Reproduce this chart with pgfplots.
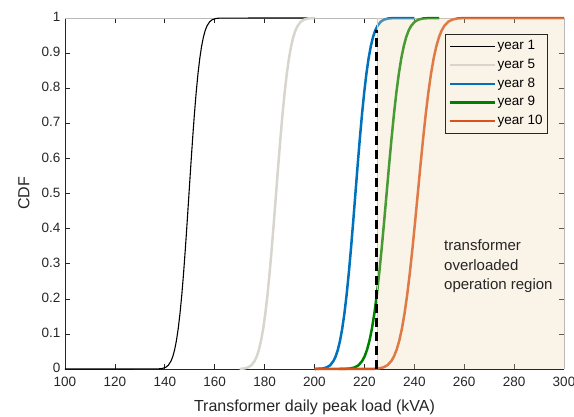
\documentclass[border=0pt]{standalone}
\usepackage{fontspec}
\setmainfont{Liberation Sans}
\usepackage{pgfplots}
\pgfplotsset{compat=1.18}
\definecolor{c5}{RGB}{216,213,206}
\definecolor{c8}{RGB}{0,114,189}
\definecolor{c9}{RGB}{0,128,0}
\definecolor{c10}{RGB}{217,83,25}
\definecolor{patchc}{rgb}{0.933,0.843,0.687}
\definecolor{bgc}{RGB}{250,243,231}
\definecolor{axc}{RGB}{38,38,38}
\begin{document}
\begin{tikzpicture}
\path[use as bounding box] (-65pt,-47pt) rectangle (509pt,369pt);
\begin{axis}[
  scale only axis, width=499pt, height=351pt,
  xmin=100, xmax=300, ymin=0, ymax=1,
  clip=false,
  separate axis lines,
  axis line style={draw=none},
  xtick={100,120,140,160,180,200,220,240,260,280,300},
  ytick={0,0.1,0.2,0.3,0.4,0.5,0.6,0.7,0.8,0.9,1},
  yticklabels={0,0.1,0.2,0.3,0.4,0.5,0.6,0.7,0.8,0.9,1},
  tick align=inside, major tick length=5pt,
  tick style={color=axc, line width=0.6pt},
  /pgf/number format/assume math mode=true,
  tick label style={font=\fontsize{13.5}{16}\selectfont, color=axc},
  xticklabel style={yshift=-5pt},
  yticklabel style={xshift=-1pt, yshift=1pt},
  xlabel={Transformer daily peak load (kVA)},
  ylabel={CDF},
  label style={font=\fontsize{16}{19}\selectfont, color=axc},
  xlabel style={at={(axis description cs:0.5,-0.1083)}, anchor=center},
  ylabel style={at={(axis description cs:-0.0822,0.5)}, anchor=center},
  legend cell align=left,
  legend style={at={(axis description cs:1,1)}, anchor=north east,
    xshift=-16pt, yshift=-16pt, fill=bgc, draw=axc, line width=0.6pt,
    font=\fontsize{13.5}{16}\selectfont,
    inner xsep=3.5pt, inner ysep=4.3pt, row sep=3.2pt,
    nodes={inner sep=1.5pt, text height=9.5pt, text depth=3pt}},
  legend image code/.code={\draw[#1] (0pt,0pt) -- (45pt,0pt);},
]
\draw[axc, line width=0.7pt] (rel axis cs:0,1) -- (rel axis cs:0,0) -- (rel axis cs:1,0);
\draw[gray!55, line width=0.7pt] (rel axis cs:0,1) -- (rel axis cs:1,1) -- (rel axis cs:1,0);

\addplot[black, line width=1.1pt, line join=round] coordinates {(100,0) (137.1,0.0002) (138.9,0.0013) (140.34,0.0047) (141.42,0.0107) (142.5,0.0228) (143.22,0.0359) (143.94,0.0548) (144.66,0.0808) (145.38,0.1151) (146.1,0.1587) (146.82,0.2119) (147.54,0.2743) (148.26,0.3446) (148.98,0.4207) (149.7,0.5) (150.42,0.5793) (151.14,0.6554) (151.86,0.7257) (152.58,0.7881) (153.3,0.8413) (154.02,0.8849) (154.74,0.9192) (155.46,0.9452) (156.18,0.9641) (156.9,0.9772) (157.98,0.9893) (159.06,0.9953) (160.5,0.9987) (162.3,0.9998) (200,1)};

\addplot[c5, line width=2.5pt, line join=round] coordinates {(170,0.0003) (171.7,0.0013) (173.42,0.0047) (174.71,0.0107) (176.0,0.0228) (176.86,0.0359) (177.72,0.0548) (178.58,0.0808) (179.44,0.1151) (180.3,0.1587) (181.16,0.2119) (182.02,0.2743) (182.88,0.3446) (183.74,0.4207) (184.6,0.5) (185.46,0.5793) (186.32,0.6554) (187.18,0.7257) (188.04,0.7881) (188.9,0.8413) (189.76,0.8849) (190.62,0.9192) (191.48,0.9452) (192.34,0.9641) (193.2,0.9772) (194.49,0.9893) (195.78,0.9953) (197.5,0.9987) (199.65,0.9998) (200,1)};

\addplot[c8, line width=2.5pt, line join=round] coordinates {(200,0.0001) (203.2,0.0013) (204.96,0.0047) (206.28,0.0107) (207.6,0.0228) (208.48,0.0359) (209.36,0.0548) (210.24,0.0808) (211.12,0.1151) (212.0,0.1587) (212.88,0.2119) (213.76,0.2743) (214.64,0.3446) (215.52,0.4207) (216.4,0.5) (217.28,0.5793) (218.16,0.6554) (219.04,0.7257) (219.92,0.7881) (220.8,0.8413) (221.68,0.8849) (222.56,0.9192) (223.44,0.9452) (224.32,0.9641) (225.2,0.9772) (226.52,0.9893) (227.84,0.9953) (229.6,0.9987) (231.8,0.9998) (240,1)};

\addplot[c9, line width=2.5pt, line join=round] coordinates {(210,0) (211.75,0.0002) (214.2,0.0013) (216.16,0.0047) (217.63,0.0107) (219.1,0.0228) (220.08,0.0359) (221.06,0.0548) (222.04,0.0808) (223.02,0.1151) (224.0,0.1587) (224.98,0.2119) (225.96,0.2743) (226.94,0.3446) (227.92,0.4207) (228.9,0.5) (229.88,0.5793) (230.86,0.6554) (231.84,0.7257) (232.82,0.7881) (233.8,0.8413) (234.78,0.8849) (235.76,0.9192) (236.74,0.9452) (237.72,0.9641) (238.7,0.9772) (240.17,0.9893) (241.64,0.9953) (243.6,0.9987) (246.05,0.9998) (250,1)};

\addplot[c10, line width=2.5pt, line join=round] coordinates {(200,0) (222.85,0.0002) (225.5,0.0013) (227.62,0.0047) (229.21,0.0107) (230.8,0.0228) (231.86,0.0359) (232.92,0.0548) (233.98,0.0808) (235.04,0.1151) (236.1,0.1587) (237.16,0.2119) (238.22,0.2743) (239.28,0.3446) (240.34,0.4207) (241.4,0.5) (242.46,0.5793) (243.52,0.6554) (244.58,0.7257) (245.64,0.7881) (246.7,0.8413) (247.76,0.8849) (248.82,0.9192) (249.88,0.9452) (250.94,0.9641) (252.0,0.9772) (253.59,0.9893) (255.18,0.9953) (257.3,0.9987) (259.95,0.9998) (300,1)};

\addplot[draw=none, fill=patchc, fill opacity=0.3, forget plot] coordinates {(225,1) (300,1)} \closedcycle;
\addplot[gray!40, line width=0.6pt, forget plot] coordinates {(225,0) (225,1)};
\addplot[black, line width=3pt, dash pattern=on 9pt off 5pt, forget plot] coordinates {(225,0) (225,0.966)};

\node[anchor=west, inner sep=0pt, align=left, text=axc, font=\fontsize{15}{19.2}\selectfont] at (axis cs:251.9,0.293) {transformer\\overloaded\\operation region};

\legend{year 1, year 5, year 8, year 9, year 10}
\end{axis}
\end{tikzpicture}
\end{document}
